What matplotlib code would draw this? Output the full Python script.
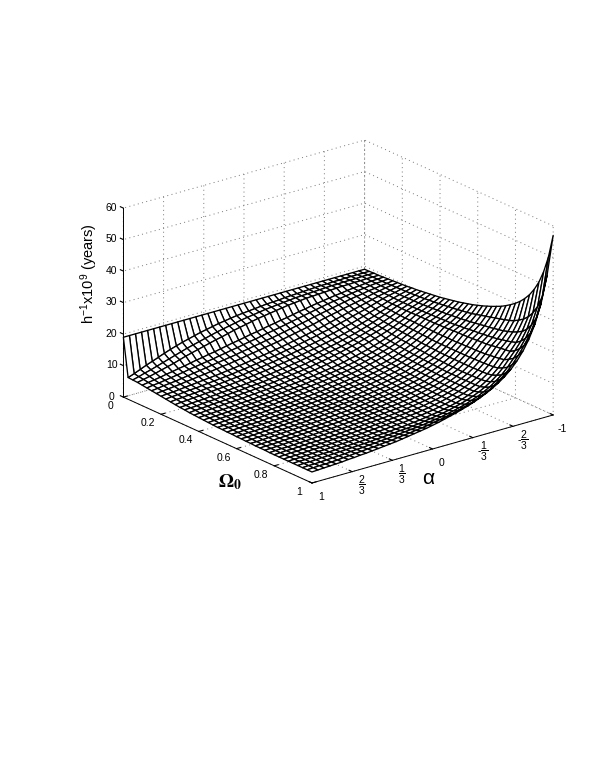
import matplotlib
matplotlib.use("Agg")
import numpy as np
import matplotlib.pyplot as plt

plt.rcParams['font.family'] = ['Liberation Sans', 'DejaVu Sans']
plt.rcParams['mathtext.default'] = 'regular'
plt.rcParams['grid.linestyle'] = (0, (1, 3.5))
plt.rcParams['grid.linewidth'] = 0.7
plt.rcParams['grid.color'] = '#777777'

omega = [0.0, 0.025, 0.05, 0.075, 0.1, 0.125, 0.15, 0.175, 0.2, 0.225, 0.25, 0.275, 0.3, 0.325,
         0.35, 0.375, 0.4, 0.425, 0.45, 0.475, 0.5, 0.525, 0.55, 0.575, 0.6, 0.625, 0.65, 0.675,
         0.7, 0.725, 0.75, 0.775, 0.8, 0.825, 0.85, 0.875, 0.9, 0.925, 0.95, 0.975, 1.0]
alpha = [1.0, 0.95, 0.9, 0.85, 0.8, 0.75, 0.7, 0.65, 0.6, 0.55, 0.5, 0.45, 0.4, 0.35,
         0.3, 0.25, 0.2, 0.15, 0.1, 0.05, 0.0, -0.05, -0.1, -0.15, -0.2, -0.25, -0.3, -0.35,
         -0.4, -0.45, -0.5, -0.55, -0.6, -0.65, -0.7, -0.75, -0.8, -0.85, -0.9, -0.95, -1.0]
# one row per omega value
z_table = [
    [19,19,19,19,19,19,19,19,19,19,19,19,19,19,19,19,19,19,19,19,19,19,19,19,19,19,19,19,19,19,19,19,19,19,19,19,19,19,19,19,19],
    [6.9,7.6,8.4,9.2,9.9,10.6,11.3,12,12.6,13.2,13.7,14.2,14.7,15.1,15.5,15.9,16.2,16.5,16.8,17,17.2,17.4,17.6,17.8,17.9,18,18.2,18.3,18.4,18.5,18.6,18.7,18.8,18.8,18.9,18.9,19,19,19,19,19],
    [6.8,7.3,7.9,8.4,9,9.6,10.2,10.8,11.4,12,12.5,13,13.5,14,14.5,14.9,15.3,15.7,16.1,16.4,16.7,17,17.3,17.5,17.7,17.9,18.1,18.3,18.4,18.5,18.6,18.7,18.8,18.9,18.9,19,19,19,19.1,19.1,19.1],
    [6.7,7.1,7.5,8,8.5,9,9.5,10.1,10.7,11.2,11.7,12.2,12.7,13.2,13.6,14.1,14.6,15,15.4,15.8,16.2,16.5,16.8,17.1,17.4,17.7,17.9,18.1,18.3,18.4,18.5,18.6,18.7,18.8,18.9,18.9,19,19,19.1,19.1,19.1],
    [6.5,6.8,7.1,7.4,7.8,8.1,8.5,8.8,9.2,9.6,9.9,10.3,10.6,11,11.4,11.8,12.1,12.5,12.9,13.2,13.6,14,14.3,14.7,15,15.4,15.8,16.1,16.5,16.8,17.1,17.4,17.7,17.9,18.2,18.4,18.6,18.8,19,19.1,19.2],
    [6.3,6.6,6.8,7.1,7.4,7.7,8,8.4,8.7,9,9.3,9.6,10,10.3,10.7,11,11.4,11.8,12.1,12.5,12.9,13.2,13.6,14,14.4,14.8,15.2,15.6,16,16.4,16.8,17.1,17.4,17.7,18,18.3,18.5,18.8,19,19.1,19.3],
    [6.1,6.3,6.6,6.8,7,7.3,7.6,7.9,8.2,8.5,8.8,9.1,9.4,9.7,10,10.4,10.7,11.1,11.4,11.8,12.1,12.5,12.9,13.3,13.7,14.1,14.5,15,15.4,15.8,16.2,16.6,17,17.4,17.7,18,18.4,18.6,18.9,19.1,19.4],
    [5.9,6.1,6.3,6.5,6.7,7,7.2,7.5,7.7,8,8.3,8.6,8.8,9.1,9.4,9.8,10.1,10.4,10.8,11.1,11.4,11.8,12.2,12.6,13,13.4,13.8,14.3,14.8,15.2,15.6,16.1,16.5,16.9,17.3,17.7,18.2,18.5,18.9,19.2,19.5],
    [5.7,5.9,6,6.2,6.4,6.6,6.8,7,7.2,7.4,7.6,7.9,8.1,8.4,8.7,9,9.3,9.6,9.9,10.3,10.6,11,11.4,11.8,12.2,12.6,13,13.5,14,14.5,15,15.5,16,16.5,17,17.5,18,18.4,18.8,19.2,19.6],
    [5.5,5.7,5.8,6,6.2,6.3,6.5,6.7,6.9,7.1,7.3,7.5,7.8,8,8.3,8.6,8.9,9.2,9.5,9.8,10.2,10.5,10.9,11.3,11.7,12.1,12.6,13,13.5,14,14.5,15.1,15.6,16.1,16.7,17.3,17.9,18.4,18.8,19.3,19.7],
    [5.3,5.5,5.6,5.8,5.9,6.1,6.3,6.4,6.6,6.8,7,7.2,7.4,7.7,7.9,8.2,8.5,8.8,9.1,9.4,9.7,10.1,10.4,10.8,11.2,11.6,12.1,12.5,13,13.5,14,14.6,15.2,15.8,16.4,17,17.7,18.3,18.8,19.3,19.9],
    [5.1,5.3,5.4,5.6,5.7,5.9,6,6.2,6.3,6.5,6.7,6.9,7.1,7.3,7.6,7.8,8.1,8.4,8.7,9,9.3,9.6,10,10.4,10.8,11.2,11.6,12,12.5,13,13.6,14.2,14.8,15.4,16.1,16.8,17.6,18.2,18.8,19.4,20],
    [4.9,5,5.2,5.3,5.4,5.6,5.7,5.9,6,6.2,6.3,6.5,6.7,6.9,7.2,7.4,7.7,8,8.3,8.6,8.9,9.3,9.6,10,10.4,10.8,11.2,11.7,12.2,12.7,13.3,13.9,14.6,15.3,16,16.8,17.6,18.2,18.9,19.5,20.2],
    [4.8,4.9,5,5.2,5.3,5.4,5.6,5.7,5.9,6,6.2,6.4,6.5,6.7,6.9,7.2,7.4,7.7,8,8.3,8.6,9,9.3,9.7,10.1,10.5,10.9,11.4,11.9,12.5,13.1,13.7,14.3,15,15.8,16.6,17.5,18.2,18.9,19.6,20.4],
    [4.6,4.8,4.9,5,5.2,5.3,5.4,5.6,5.7,5.9,6,6.2,6.3,6.5,6.7,7,7.2,7.5,7.7,8,8.3,8.7,9,9.4,9.8,10.2,10.7,11.2,11.7,12.3,12.9,13.5,14.1,14.8,15.6,16.5,17.5,18.2,18.9,19.7,20.6],
    [4.5,4.6,4.8,4.9,5,5.2,5.3,5.4,5.5,5.7,5.8,6,6.1,6.3,6.5,6.7,7,7.2,7.5,7.8,8,8.4,8.7,9.1,9.5,10,10.4,10.9,11.5,12,12.6,13.2,13.9,14.6,15.5,16.4,17.5,18.2,19,19.9,20.8],
    [4.4,4.5,4.6,4.7,4.8,4.9,5,5.2,5.3,5.4,5.6,5.7,5.9,6.1,6.3,6.5,6.7,6.9,7.2,7.4,7.7,8,8.3,8.6,9,9.5,9.9,10.4,10.9,11.5,12.1,12.8,13.6,14.5,15.4,16.4,17.6,18.3,19.1,20,21],
    [4.3,4.4,4.5,4.6,4.7,4.8,4.9,5.1,5.2,5.3,5.5,5.6,5.8,5.9,6.1,6.3,6.5,6.7,7,7.2,7.5,7.8,8.1,8.4,8.8,9.2,9.7,10.2,10.7,11.3,11.9,12.6,13.4,14.3,15.3,16.4,17.6,18.3,19.2,20.2,21.3],
    [4.2,4.3,4.4,4.5,4.6,4.7,4.8,5,5.1,5.2,5.3,5.5,5.6,5.8,6,6.2,6.4,6.6,6.8,7,7.3,7.6,7.9,8.2,8.6,9,9.5,10,10.5,11.1,11.7,12.4,13.2,14.2,15.2,16.3,17.6,18.4,19.3,20.4,21.6],
    [4.1,4.2,4.3,4.4,4.5,4.6,4.7,4.9,5,5.1,5.2,5.4,5.5,5.7,5.9,6,6.2,6.4,6.6,6.9,7.1,7.4,7.7,8,8.4,8.8,9.3,9.8,10.3,10.9,11.5,12.2,13.1,14,15.1,16.3,17.6,18.4,19.4,20.6,21.9],
    [4,4.1,4.2,4.3,4.4,4.5,4.6,4.7,4.8,5,5.1,5.2,5.3,5.5,5.7,5.8,6,6.2,6.4,6.7,6.9,7.2,7.5,7.8,8.1,8.5,9,9.4,9.9,10.5,11.2,12,12.9,13.9,15,16.3,17.6,18.5,19.5,20.8,22.2],
    [4,4.1,4.1,4.2,4.3,4.4,4.5,4.6,4.8,4.9,5,5.1,5.3,5.4,5.6,5.7,5.9,6.1,6.3,6.6,6.8,7.1,7.4,7.7,8,8.4,8.8,9.3,9.8,10.4,11.1,11.9,12.7,13.7,14.9,16.2,17.7,18.6,19.7,21,22.6],
    [3.9,4,4.1,4.2,4.2,4.3,4.4,4.6,4.7,4.8,4.9,5,5.2,5.3,5.5,5.7,5.8,6,6.2,6.5,6.7,7,7.2,7.5,7.9,8.3,8.7,9.2,9.7,10.3,11,11.7,12.6,13.6,14.8,16.2,17.7,18.6,19.8,21.3,23],
    [3.9,3.9,4,4.1,4.2,4.3,4.4,4.5,4.6,4.7,4.8,5,5.1,5.3,5.4,5.6,5.7,5.9,6.1,6.4,6.6,6.9,7.1,7.4,7.8,8.1,8.6,9,9.5,10.1,10.8,11.6,12.5,13.5,14.7,16.2,17.8,18.7,20,21.5,23.4],
    [3.8,3.9,4,4,4.1,4.2,4.3,4.4,4.5,4.6,4.7,4.9,5,5.2,5.3,5.5,5.6,5.8,6,6.2,6.4,6.7,7,7.3,7.6,8,8.4,8.9,9.3,10,10.7,11.5,12.3,13.4,14.7,16.2,17.9,18.9,20.2,21.8,23.9],
    [3.8,3.8,3.9,4,4.1,4.2,4.3,4.4,4.5,4.6,4.7,4.8,5,5.1,5.3,5.4,5.6,5.8,5.9,6.2,6.4,6.6,6.9,7.2,7.5,7.9,8.3,8.8,9.2,9.9,10.6,11.4,12.2,13.3,14.7,16.2,18,19,20.4,22.2,24.4],
    [3.7,3.8,3.9,3.9,4,4.1,4.2,4.3,4.4,4.5,4.6,4.8,4.9,5.1,5.2,5.4,5.5,5.7,5.9,6.1,6.3,6.5,6.8,7.1,7.4,7.8,8.2,8.7,9.1,9.8,10.5,11.3,12.2,13.3,14.7,16.2,18,19.2,20.7,22.6,25],
    [3.7,3.7,3.8,3.9,4,4.1,4.2,4.3,4.4,4.5,4.6,4.7,4.8,5,5.1,5.3,5.4,5.6,5.8,6,6.2,6.5,6.7,7,7.3,7.7,8.1,8.6,9,9.7,10.4,11.2,12.1,13.2,14.7,16.3,18.1,19.4,20.9,23,25.6],
    [3.6,3.7,3.8,3.8,3.9,4,4.1,4.2,4.3,4.4,4.5,4.6,4.7,4.9,5,5.2,5.3,5.5,5.7,5.9,6.1,6.4,6.6,6.9,7.2,7.6,8,8.4,8.9,9.6,10.3,11.1,12,13.2,14.7,16.3,18.2,19.5,21.2,23.4,26.3],
    [3.6,3.7,3.7,3.8,3.9,4,4.1,4.2,4.3,4.4,4.5,4.6,4.7,4.8,5,5.1,5.3,5.4,5.6,5.8,6,6.3,6.5,6.8,7.1,7.5,7.9,8.3,8.8,9.5,10.2,11,12,13.2,14.7,16.4,18.3,19.7,21.4,23.8,27],
    [3.6,3.6,3.7,3.8,3.9,3.9,4,4.1,4.2,4.3,4.4,4.5,4.6,4.8,4.9,5.1,5.2,5.4,5.6,5.8,6,6.2,6.4,6.7,7,7.4,7.8,8.3,8.8,9.4,10.2,11,11.9,13.2,14.7,16.4,18.4,19.9,21.7,24.2,27.9],
    [3.5,3.6,3.7,3.7,3.8,3.9,4,4.1,4.2,4.3,4.4,4.5,4.6,4.7,4.9,5,5.2,5.3,5.5,5.7,5.9,6.1,6.3,6.6,6.9,7.3,7.7,8.2,8.7,9.4,10.1,11,11.9,13.2,14.8,16.5,18.5,20.1,22,24.6,28.9],
    [3.5,3.6,3.7,3.7,3.8,3.9,4,4,4.1,4.2,4.3,4.4,4.6,4.7,4.8,5,5.1,5.3,5.4,5.6,5.8,6,6.3,6.6,6.9,7.2,7.6,8.1,8.7,9.3,10.1,10.9,11.9,13.2,14.8,16.6,18.7,20.3,22.3,25.1,30],
    [3.5,3.6,3.7,3.7,3.8,3.9,3.9,4,4.1,4.2,4.3,4.4,4.5,4.7,4.8,4.9,5.1,5.2,5.4,5.6,5.8,6,6.3,6.5,6.8,7.2,7.6,8.1,8.7,9.3,10.1,11,12,13.3,14.9,16.8,19,20.7,22.8,25.7,31.3],
    [3.5,3.6,3.6,3.7,3.8,3.9,3.9,4,4.1,4.2,4.3,4.4,4.5,4.6,4.8,4.9,5.1,5.2,5.4,5.6,5.8,6,6.2,6.5,6.8,7.2,7.6,8.1,8.7,9.3,10.1,11,12,13.3,15,17,19.2,21,23.3,26.6,32.9],
    [3.5,3.6,3.6,3.7,3.8,3.9,3.9,4,4.1,4.2,4.3,4.4,4.5,4.6,4.8,4.9,5,5.2,5.4,5.5,5.7,6,6.2,6.5,6.8,7.2,7.6,8.1,8.7,9.3,10.1,11,12.1,13.4,15.1,17.2,19.4,21.4,24,27.6,34.8],
    [3.5,3.6,3.6,3.7,3.8,3.9,3.9,4,4.1,4.2,4.3,4.4,4.5,4.6,4.8,4.9,5,5.2,5.3,5.5,5.7,5.9,6.2,6.5,6.8,7.2,7.6,8.1,8.7,9.4,10.2,11.1,12.3,13.7,15.4,17.5,19.6,21.9,24.9,29,37.2],
    [3.5,3.6,3.6,3.7,3.8,3.9,4,4.1,4.2,4.3,4.4,4.5,4.6,4.8,4.9,5.1,5.2,5.4,5.5,5.7,5.9,6.2,6.5,6.8,7.1,7.5,8,8.5,9.1,9.8,10.6,11.6,12.8,14.3,16.1,18.3,20.5,23,26.3,31,40.2],
    [3.5,3.6,3.6,3.7,3.8,3.9,4,4.1,4.3,4.4,4.5,4.7,4.8,5,5.1,5.3,5.5,5.7,5.9,6.1,6.3,6.6,6.9,7.2,7.6,8,8.5,9,9.7,10.4,11.3,12.3,13.6,15.1,17,19.3,21.8,24.6,28.4,33.7,44.2],
    [3.5,3.6,3.7,3.7,3.8,3.9,4.1,4.2,4.4,4.5,4.7,4.8,5,5.2,5.3,5.6,5.8,6,6.3,6.5,6.8,7.2,7.5,7.9,8.3,8.8,9.3,9.9,10.6,11.4,12.3,13.5,14.9,16.5,18.5,20.9,23.6,26.8,31.2,37.6,49.5],
    [3.5,3.6,3.7,3.8,3.9,4,4.2,4.3,4.5,4.6,4.8,5,5.2,5.4,5.6,5.9,6.2,6.5,6.8,7.1,7.5,7.9,8.4,8.9,9.4,10,10.6,11.3,12.1,13,14,15.2,16.6,18.3,20.4,23,26.3,30.6,36.5,45,57],
]
omega_ticks = [0, 0.2, 0.4, 0.6, 0.8, 1]
omega_labels = ['0', '0.2', '0.4', '0.6', '0.8', '1']
alpha_ticks = [-1, -2/3, -1/3, 0, 1/3, 2/3, 1]
alpha_labels = ['-1', r'-$\dfrac{2}{3}$', r'-$\dfrac{1}{3}$', '0', r'$\dfrac{1}{3}$', r'$\dfrac{2}{3}$', '1']
z_ticks = [0, 10, 20, 30, 40, 50, 60]

fig = plt.figure(figsize=(5.9, 7.63), dpi=100)
ax = fig.add_axes([35.3 / 590, 148.5 / 763, 590 / 590, 590 / 763], projection='3d', proj_type='ortho')
ax.view_init(elev=21, azim=-38.2)
ax.set_box_aspect((305, 307, 202.5), zoom=0.786)

X, Y = np.meshgrid(omega, alpha, indexing='ij')
ax.plot_surface(X, Y, np.array(z_table), rstride=1, cstride=1, color='white',
                edgecolor='black', linewidth=0.95, shade=False, antialiased=True)

ax.set_xlim(0, 1)
ax.set_ylim(1, -1)
ax.set_zlim(0, 60)
ax.set_xticks(omega_ticks)
ax.set_xticklabels(omega_labels)
ax.set_yticks(alpha_ticks)
ax.set_yticklabels(alpha_labels)
ax.set_zticks(z_ticks)
ax.zaxis._axinfo['juggled'] = (1, 2, 0)
ax.tick_params(labelsize=7.5)
ax.tick_params(axis='x', pad=4)
ax.tick_params(axis='y', pad=3)
ax.tick_params(axis='z', pad=-2)

for axis in (ax.xaxis, ax.yaxis, ax.zaxis):
    axis.pane.fill = False
    axis.pane.set_edgecolor('none')
    axis.line.set_linewidth(0.7)
    axis._axinfo['tick']['inward_factor'] = 0.0
    axis._axinfo['tick']['outward_factor'] = 0.2

for t in ax.get_yticklabels() + ax.get_zticklabels():
    t.set_verticalalignment('center')
for t in ax.get_xticklabels():
    t.set_verticalalignment('bottom')

fig.text(89 / 590, 1 - 274 / 763, r'h$^{-1}$x10$^{9}$ (years)', fontsize=10.5, rotation=90, ha='center', va='center')
fig.text(230 / 590, 1 - 482 / 763, r'$\mathbf{\Omega_0}$', fontsize=14, math_fontfamily='stix', ha='center', va='center')
fig.text(428 / 590, 1 - 479 / 763, 'α', fontsize=15, ha='center', va='center')

fig.savefig('out.png', dpi=100)
